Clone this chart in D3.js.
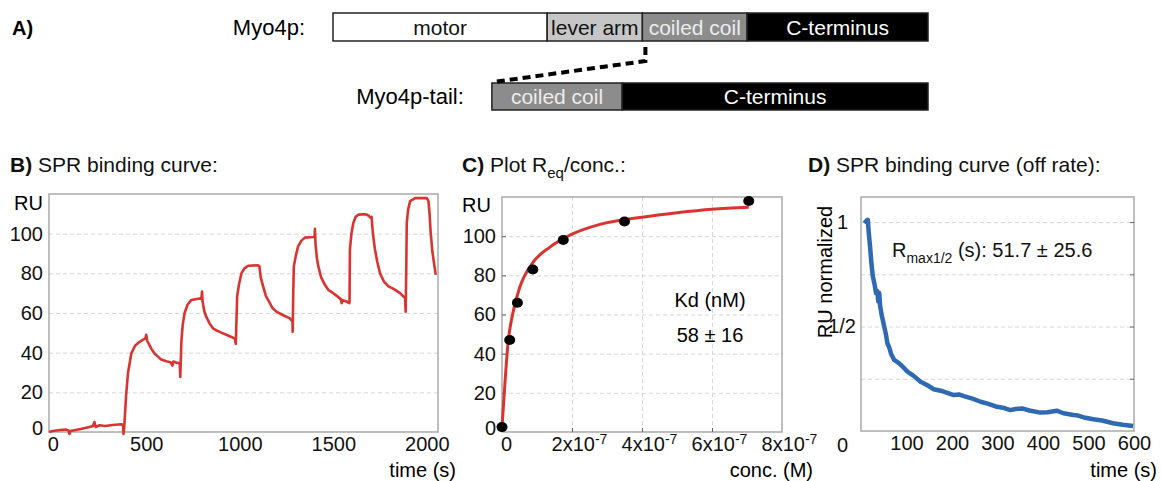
<!DOCTYPE html>
<html>
<head>
<meta charset="utf-8">
<script src="https://cdn.jsdelivr.net/npm/d3@7"></script>
<style>
  body { margin: 0; background: #fff; }
  svg { display: block; font-family: "Liberation Sans", Arial, sans-serif; }
</style>
</head>
<body>
<div id="chart"></div>
<script>
// A) domain map (units = % of Myo4p length)
const myo4pNames = ["motor", "lever arm", "coiled coil", "C-terminus"];
const myo4pStart = [0, 36, 52, 69.6];
const myo4pEnd = [36, 52, 69.6, 100];
const tailNames = ["coiled coil", "C-terminus"];
const tailStart = [26.7, 48.6];
const tailEnd = [48.6, 100];

// B) SPR sensorgram, time (s) / RU
const sprTime = [-20, 0, 40, 71, 85, 89, 95, 150, 196, 215, 223, 230, 250, 280, 320, 366, 376, 378, 382, 392, 402, 420, 440, 464, 495, 500, 505, 527, 545, 563, 580, 607, 630, 640, 645, 660, 679, 682, 688, 695, 705, 720, 741, 786, 795, 798, 801, 810, 821, 840, 857, 880, 911, 940, 973, 979, 982, 986, 995, 1009, 1025, 1045, 1098, 1105, 1112, 1125, 1140, 1161, 1175, 1196, 1230, 1268, 1282, 1283, 1286, 1289, 1300, 1312, 1330, 1348, 1393, 1400, 1402, 1405, 1412, 1420, 1435, 1455, 1475, 1500, 1520, 1540, 1545, 1550, 1571, 1586, 1587, 1589, 1597, 1607, 1620, 1634, 1665, 1679, 1690, 1700, 1705, 1710, 1716, 1723, 1735, 1750, 1770, 1795, 1825, 1857, 1884, 1887, 1890, 1893, 1900, 1911, 1938, 2000, 2009, 2015, 2021, 2030, 2036, 2048];
const sprRU = [0, 0.5, 1, 1.2, 0.8, -1, 0.5, 1.5, 2.5, 3, 5, 2.5, 3.4, 3, 3.5, 3.9, 3.5, -1, 2, 18, 29.5, 39.6, 43.5, 45.5, 47.2, 49, 46, 42, 39.5, 38, 36.5, 35.7, 35.2, 33.5, 35.5, 35, 34.6, 27.8, 46, 54, 60, 64, 66.6, 67.3, 67, 70.8, 66, 61, 58, 54.5, 52.3, 51, 49.7, 48.5, 47.2, 44.4, 55, 68.3, 74, 80, 82.5, 83.8, 84.1, 83.5, 78, 73.4, 68.5, 65, 62.5, 60.7, 59, 57.3, 55.6, 50.6, 70, 83.5, 89, 93.6, 96.5, 98, 98.3, 98.5, 102.4, 95, 88, 83.5, 78, 74.2, 71.5, 70, 68.5, 67, 65, 66.5, 65.8, 65, 66, 92, 100, 105.4, 108.5, 109.6, 109.8, 109.6, 109, 108, 108.5, 102, 97, 92, 86, 80, 76, 73.4, 72, 70, 67.5, 60.7, 80, 105.4, 112, 116.4, 117.9, 117.9, 116.4, 110, 100.3, 91, 86.8, 79.3];

// C) equilibrium response vs concentration
const eqConc = [0, 2.2e-8, 4.4e-8, 8.8e-8, 1.75e-7, 3.5e-7, 7.05e-7];
const eqRU = [2.5, 47, 66, 83, 98, 107.5, 118];
const fitConc = [0, 0.09e-7, 0.17e-7, 0.31e-7, 0.51e-7, 0.89e-7, 1.37e-7, 2e-7, 2.8e-7, 4e-7, 5e-7, 6e-7, 7.05e-7];
const fitRU = [2.5, 26.5, 45, 60.7, 74, 86.7, 94.4, 101, 106, 109.7, 112, 113.8, 114.8];

// D) dissociation, normalized
const offTime = [7, 12, 15, 17, 20, 23, 26, 30, 33, 36, 38, 40, 42, 45, 48, 51, 55, 58, 62, 66, 73, 80, 88, 95, 102, 115, 131, 145, 160, 180, 204, 215, 226, 245, 263, 280, 299, 315, 328, 340, 354, 370, 394, 410, 430, 445, 467, 475, 490, 511, 530, 554, 575, 598];
const offRU = [1.01, 1.0, 1.01, 0.95, 0.88, 0.8, 0.74, 0.7, 0.66, 0.67, 0.62, 0.66, 0.6, 0.56, 0.53, 0.5, 0.46, 0.42, 0.4, 0.37, 0.34, 0.33, 0.316, 0.3, 0.284, 0.265, 0.236, 0.22, 0.2, 0.19, 0.172, 0.175, 0.167, 0.155, 0.14, 0.13, 0.116, 0.11, 0.1, 0.105, 0.108, 0.098, 0.088, 0.09, 0.097, 0.085, 0.077, 0.075, 0.065, 0.056, 0.05, 0.037, 0.03, 0.024];

const width = 1161;
const height = 481;
const red = "#d9342f";
const blue = "#2f69b3";

const svg = d3.select("#chart").append("svg")
  .attr("width", width)
  .attr("height", height);

// ---------- A) domain diagram ----------
const xA = d3.scaleLinear().domain([0, 100]).range([333, 928]);
const fills = { "motor": "#fff", "lever arm": "#c6c6c6", "coiled coil": "#8c8c8c", "C-terminus": "#000" };
const textFills = { "motor": "#111", "lever arm": "#111", "coiled coil": "#ececec", "C-terminus": "#fff" };

svg.append("text").attr("x", 12).attr("y", 35).attr("font-size", 20).attr("font-weight", "bold").text("A)");

function drawBar(names, starts, ends, top, h, label) {
  const g = svg.append("g");
  g.selectAll("rect")
    .data(names)
    .join("rect")
    .attr("x", (d, i) => xA(starts[i]))
    .attr("y", top)
    .attr("width", (d, i) => xA(ends[i]) - xA(starts[i]))
    .attr("height", h)
    .attr("fill", d => fills[d])
    .attr("stroke", "#222")
    .attr("stroke-width", 1.5);
  g.selectAll("text")
    .data(names)
    .join("text")
    .attr("x", (d, i) => (xA(starts[i]) + xA(ends[i])) / 2)
    .attr("y", top + h / 2)
    .attr("dy", "0.36em")
    .attr("text-anchor", "middle")
    .attr("font-size", 21)
    .attr("fill", d => textFills[d])
    .text(d => d);
  svg.append("text")
    .attr("x", xA(starts[0]) - 28)
    .attr("y", top + h / 2)
    .attr("dy", "0.36em")
    .attr("text-anchor", "end")
    .attr("font-size", 22)
    .text(label);
}

drawBar(myo4pNames, myo4pStart, myo4pEnd, 13, 28, "Myo4p:");
drawBar(tailNames, tailStart, tailEnd, 83, 27, "Myo4p-tail:");

// dashed connector from coiled coil to tail
const cx = xA(myo4pStart[2]) + 3;
svg.append("path")
  .attr("d", `M${cx},47 L${cx},61 L${xA(tailStart[0]) + 2},82`)
  .attr("fill", "none")
  .attr("stroke", "#000")
  .attr("stroke-width", 4)
  .attr("stroke-dasharray", "8,5");

// ---------- shared helpers ----------
function frame(x, y) {
  svg.append("rect")
    .attr("x", x.range()[0])
    .attr("y", y.range()[1])
    .attr("width", x.range()[1] - x.range()[0])
    .attr("height", y.range()[0] - y.range()[1])
    .attr("fill", "none")
    .attr("stroke", "#aaa")
    .attr("stroke-width", 1.5);
}

function hGrid(x, y, values) {
  const g = svg.append("g")
    .attr("transform", `translate(${x.range()[0]},0)`)
    .call(d3.axisLeft(y).tickValues(values).tickSize(-(x.range()[1] - x.range()[0])).tickFormat(""));
  g.select(".domain").remove();
  g.selectAll("line").attr("stroke", "#d6d6d6").attr("stroke-dasharray", "4,3");
}

function vGrid(x, y, values) {
  const g = svg.append("g")
    .attr("transform", `translate(0,${y.range()[0]})`)
    .call(d3.axisBottom(x).tickValues(values).tickSize(-(y.range()[0] - y.range()[1])).tickFormat(""));
  g.select(".domain").remove();
  g.selectAll("line").attr("stroke", "#d6d6d6").attr("stroke-dasharray", "4,3");
}

function yLabels(x, y, values, fmt) {
  const g = svg.append("g")
    .attr("transform", `translate(${x.range()[0]},0)`)
    .call(d3.axisLeft(y).tickValues(values).tickSize(0).tickPadding(6).tickFormat(fmt));
  g.select(".domain").remove();
  g.selectAll("text").attr("font-size", 20).attr("fill", "#111").attr("font-family", null);
  return g;
}

function xLabels(x, y, values, fmt) {
  const g = svg.append("g")
    .attr("transform", `translate(0,${y.range()[0]})`)
    .call(d3.axisBottom(x).tickValues(values).tickSize(0).tickPadding(5).tickFormat(fmt));
  g.select(".domain").remove();
  g.selectAll("text").attr("font-size", 20).attr("fill", "#111").attr("font-family", null);
  return g;
}

function title(x, y, letter, rest) {
  const t = svg.append("text").attr("x", x).attr("y", y).attr("font-size", 21).attr("fill", "#111");
  t.append("tspan").attr("font-weight", "bold").text(letter + " ");
  return t.append("tspan").text(rest);
}

// ---------- B) SPR binding curve ----------
const xB = d3.scaleLinear().domain([-20, 2060]).range([49, 438]);
const yB = d3.scaleLinear().domain([0, 120]).range([432, 194]);

title(10, 172, "B)", "SPR binding curve:");
hGrid(xB, yB, [20, 40, 60, 80, 100]);
frame(xB, yB);
yLabels(xB, yB, [0, 20, 40, 60, 80, 100], d3.format("d"))
  .selectAll("text").filter(d => d === 0).attr("dy", "0.12em");
xLabels(xB, yB, [0, 500, 1000, 1500, 2000], d3.format("d"));
svg.append("text").attr("x", xB.range()[0] - 6).attr("y", 210).attr("text-anchor", "end").attr("font-size", 20).text("RU");
svg.append("text").attr("x", 456).attr("y", 477).attr("text-anchor", "end").attr("font-size", 20).text("time (s)");

svg.append("path")
  .datum(d3.zip(sprTime, sprRU))
  .attr("fill", "none")
  .attr("stroke", red)
  .attr("stroke-width", 2.6)
  .attr("stroke-linejoin", "round")
  .attr("d", d3.line().x(d => xB(d[0])).y(d => yB(d[1])));

// ---------- C) Req vs concentration ----------
const xC = d3.scaleLinear().domain([0, 8e-7]).range([502, 782]);
const yC = d3.scaleLinear().domain([0, 120]).range([432, 197]);

const tC = svg.append("text").attr("x", 462).attr("y", 172).attr("font-size", 21).attr("fill", "#111");
tC.append("tspan").attr("font-weight", "bold").text("C) ");
tC.append("tspan").text("Plot R");
tC.append("tspan").attr("font-size", 15).attr("dy", 6).text("eq");
tC.append("tspan").attr("dy", -6).text("/conc.:");

hGrid(xC, yC, [20, 40, 60, 80, 100]);
vGrid(xC, yC, [2e-7, 4e-7, 6e-7]);
frame(xC, yC);
// short inner ticks
svg.append("g").attr("transform", `translate(${xC.range()[0]},0)`)
  .call(d3.axisRight(yC).tickValues([20, 40, 60, 80, 100]).tickSize(4).tickFormat(""))
  .call(g => g.select(".domain").remove())
  .selectAll("line").attr("stroke", "#666");
svg.append("g").attr("transform", `translate(0,${yC.range()[0]})`)
  .call(d3.axisTop(xC).tickValues([2e-7, 4e-7, 6e-7]).tickSize(4).tickFormat(""))
  .call(g => g.select(".domain").remove())
  .selectAll("line").attr("stroke", "#666");

yLabels(xC, yC, [0, 20, 40, 60, 80, 100], d3.format("d"))
  .selectAll("text").filter(d => d === 0).attr("dy", "0.1em");
const xlC = xLabels(xC, yC, [0, 2e-7, 4e-7, 6e-7, 8e-7], () => "");
xlC.selectAll(".tick text").each(function (d) {
  const t = d3.select(this);
  if (d === 0) {
    t.attr("dx", 4).text("0");
  } else {
    t.attr("dx", 7);
    t.append("tspan").text(`${Math.round(d / 1e-7)}x10`);
    t.append("tspan").attr("font-size", 14).attr("dy", -7).text("-7");
  }
});
svg.append("text").attr("x", xC.range()[0] - 11).attr("y", 212).attr("text-anchor", "end").attr("font-size", 20).text("RU");
svg.append("text").attr("x", 813).attr("y", 477).attr("text-anchor", "end").attr("font-size", 20).text("conc. (M)");

svg.append("path")
  .datum(d3.zip(fitConc, fitRU))
  .attr("fill", "none")
  .attr("stroke", red)
  .attr("stroke-width", 3)
  .attr("d", d3.line().curve(d3.curveMonotoneX).x(d => xC(d[0])).y(d => yC(d[1])));

svg.append("g")
  .selectAll("ellipse")
  .data(d3.zip(eqConc, eqRU))
  .join("ellipse")
  .attr("cx", d => xC(d[0]))
  .attr("cy", d => yC(d[1]))
  .attr("rx", 5.5)
  .attr("ry", 5)
  .attr("fill", "#000");

svg.append("text").attr("x", 710).attr("y", 307).attr("text-anchor", "middle").attr("font-size", 20).text("Kd (nM)");
svg.append("text").attr("x", 710).attr("y", 342).attr("text-anchor", "middle").attr("font-size", 20).text("58 ± 16");

// ---------- D) off rate ----------
const xD = d3.scaleLinear().domain([0, 600]).range([861, 1134]);
const yD = d3.scaleLinear().domain([0, 1.12]).range([431, 197]);

title(808, 172, "D)", "SPR binding curve (off rate):");
hGrid(xD, yD, [0.25, 0.5, 0.75, 1]);
frame(xD, yD);
svg.append("g").attr("transform", `translate(${xD.range()[1]},0)`)
  .call(d3.axisLeft(yD).tickValues([0.25, 0.5, 0.75, 1]).tickSize(4).tickFormat(""))
  .call(g => g.select(".domain").remove())
  .selectAll("line").attr("stroke", "#666");

const ylD = yLabels(xD, yD, [0, 0.5, 1], d => d === 0.5 ? "1/2" : d3.format("d")(d));
ylD.selectAll("text")
  .attr("x", d => d === 0.5 ? -5 : -13)
  .filter(d => d === 0).attr("dy", "1em");
xLabels(xD, yD, [100, 200, 300, 400, 500, 600], d3.format("d"));
svg.append("text")
  .attr("transform", "translate(832,272) rotate(-90)")
  .attr("text-anchor", "middle")
  .attr("font-size", 20)
  .text("RU normalized");
svg.append("text").attr("x", 1157).attr("y", 477).attr("text-anchor", "end").attr("font-size", 20).text("time (s)");

const ann = svg.append("text").attr("x", 892).attr("y", 257).attr("font-size", 20).attr("fill", "#111");
ann.append("tspan").text("R");
ann.append("tspan").attr("font-size", 14).attr("dy", 6).text("max1/2");
ann.append("tspan").attr("dy", -6).text(" (s): 51.7 ± 25.6");

svg.append("path")
  .datum(d3.zip(offTime, offRU))
  .attr("fill", "none")
  .attr("stroke", blue)
  .attr("stroke-width", 4.5)
  .attr("stroke-linejoin", "round")
  .attr("d", d3.line().x(d => xD(d[0])).y(d => yD(d[1])));
</script>
</body>
</html>
